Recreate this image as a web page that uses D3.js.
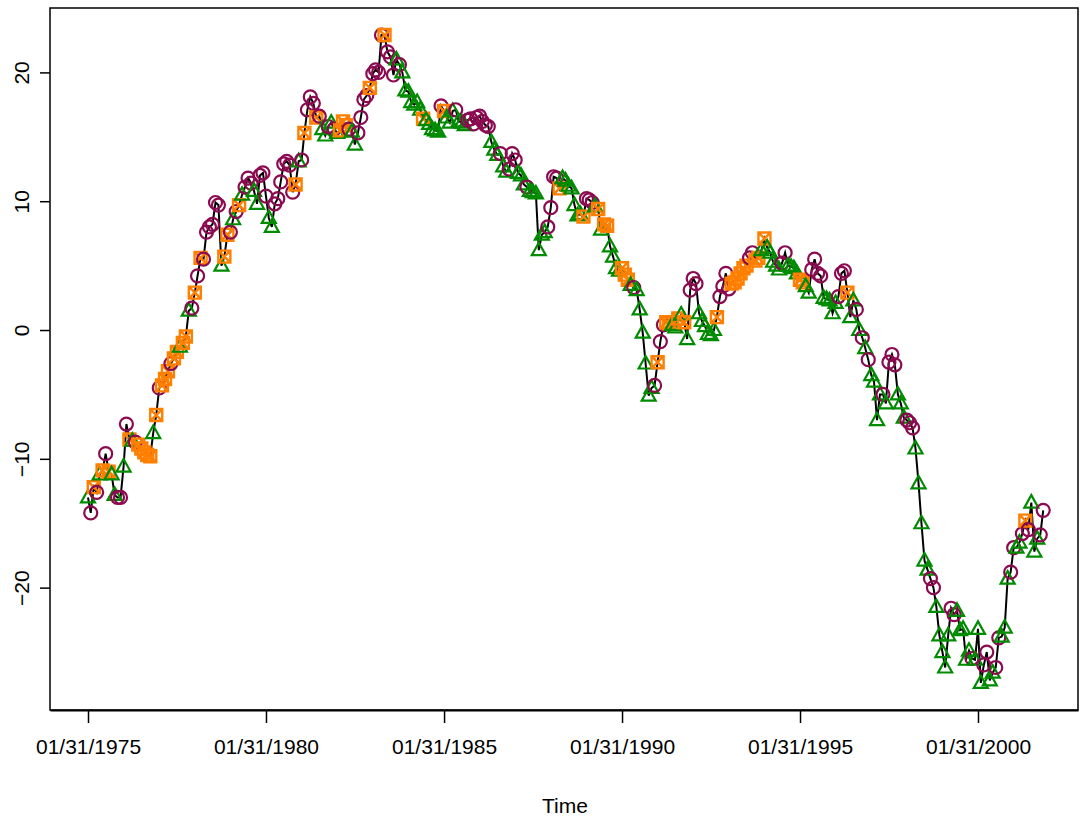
<!DOCTYPE html>
<html>
<head>
<meta charset="utf-8">
<script src="https://cdn.jsdelivr.net/npm/d3@7"></script>
<style>
  body { margin: 0; background: #fff; }
  text { font-family: "Liberation Sans", Arial, sans-serif; fill: #000; }
</style>
</head>
<body>
<div id="chart"></div>
<script>
// monthly series, month-end dates starting 01/31/1975
const startYear = 1975

const values = [
  -13.0,-14.2,-12.2,-12.6,-11.2,-10.9,-9.6,-11.0,-11.2,-12.8,-13.0,-13.0,
  -10.6,-7.3,-8.5,-8.6,-8.7,-8.9,-9.2,-9.5,-9.7,-9.8,-8.0,-6.6,
  -4.5,-4.3,-3.8,-3.2,-2.6,-2.2,-1.7,-1.3,-1.0,-0.5,1.5,1.7,
  2.9,4.2,5.6,5.5,7.6,8.0,8.2,9.9,9.7,5.0,5.7,7.4,
  7.6,8.6,9.2,9.7,10.5,11.1,11.8,11.4,10.8,9.8,12.0,12.2,
  10.4,8.7,8.0,9.8,10.2,11.5,12.9,13.1,12.8,10.7,11.3,13.1,
  13.2,15.3,17.1,18.1,17.6,16.5,16.6,15.6,15.1,15.8,16.1,15.6,
  15.3,15.5,16.2,15.9,15.6,15.4,14.4,15.3,16.5,17.9,18.2,18.8,
  19.9,20.2,20.0,22.9,22.9,21.6,21.2,19.8,21.0,20.6,20.0,18.6,
  18.5,17.7,17.5,17.7,17.1,16.4,16.3,16.0,15.6,15.5,15.4,17.4,
  17.0,16.5,16.1,17.0,17.1,16.2,16.1,15.9,16.3,16.4,16.0,16.5,
  16.6,16.2,15.9,15.8,14.6,14.0,13.6,13.7,12.7,12.3,12.5,13.7,
  13.2,12.2,12.0,11.3,11.1,10.8,10.7,10.6,6.2,7.4,7.6,8.0,
  9.5,11.9,11.8,11.0,11.8,11.6,11.2,11.0,9.7,8.9,9.0,8.8,
  10.2,10.1,9.9,9.6,9.4,7.8,8.2,8.1,6.5,5.7,4.8,4.6,
  4.8,4.3,3.9,3.5,3.3,3.1,1.6,-0.2,-2.6,-5.1,-4.5,-4.3,
  -2.5,-0.9,0.4,0.6,0.5,0.4,0.2,0.9,1.2,0.6,-0.7,3.1,
  4.0,3.6,1.3,0.7,0.3,-0.3,-0.4,0.0,1.0,2.6,3.4,4.4,
  3.2,3.6,3.7,4.0,4.4,4.8,5.0,5.6,6.0,5.4,5.6,6.2,
  7.1,6.4,6.0,5.3,5.0,4.7,5.2,6.0,5.0,4.9,4.8,4.4,
  3.9,3.7,3.4,2.9,4.7,5.5,4.4,4.2,2.5,2.4,2.3,1.3,
  2.1,2.6,4.4,4.6,2.9,1.0,2.3,1.6,0.0,-0.6,-1.4,-2.3,
  -3.5,-4.0,-7.0,-5.0,-5.0,-5.7,-2.5,-1.9,-2.7,-5.0,-5.7,-6.8,
  -7.0,-7.2,-7.6,-9.2,-11.9,-15.0,-17.9,-18.6,-19.3,-20.0,-21.5,-23.7,
  -25.0,-26.2,-23.7,-21.6,-22.1,-21.8,-23.3,-23.2,-25.6,-24.9,-25.5,-25.6,
  -23.2,-27.4,-26.0,-25.0,-27.2,-26.6,-26.2,-23.9,-23.8,-23.1,-19.3,-18.8,
  -16.9,-16.9,-16.5,-15.8,-14.8,-15.5,-13.4,-17.2,-16.2,-15.9,-14.0
]

// state of each month: C = circle, T = triangle, S = square
const states = (
  "TCSCTSCSTTCC" + "TCSTCSSSSSTS" + "CSSSCSSTSSTC" + "SCSCCCCCCTSS" +
  "CTCSTCCCTTCC" + "CTTCCCCCCCST" + "CSCCCSCTTCTC" + "TSSSCTTCCCCS" +
  "CCCCSCCCTCTT" + "TTTTTSTTTTTC" + "STTTCTTTCCCC" + "CCCCTTTCTTCC" +
  "CTTTCTTTTTTC" + "CCCSTTTTTTTS" + "CCCTSTSSTTTT" + "SSSTCTTTTTTC" +
  "SCCSSTTSTSTC" + "CCTTTTTTSCCC" + "CSSSSSSCCSST" + "STTTTTCCTTTT" +
  "SSTTCCCCTTTT" + "TCCCSTTCTCTC" + "TTTTCTCCCTTT" + "CCCTTTTTCCTT" +
  "TTTCCTTTTTCT" + "TTCCTTCCTTTC" + "CTTCSCTTTCC"
).split("")

const tickYears = [1975, 1980, 1985, 1990, 1995, 2000]
const yTicks = [-20, -10, 0, 10, 20]
const stateColor = { C: "#8B0A50", T: "#008B00", S: "#FF7F00" }

const data = values.map((v, i) => ({
  date: new Date(startYear, i + 1, 0),
  value: v,
  state: states[i]
}))

const width = 1080, height = 823
const box = { left: 50, right: 1078, top: 8, bottom: 710 }

const svg = d3.select("#chart").append("svg")
  .attr("width", width)
  .attr("height", height)

const tickDates = tickYears.map(y => new Date(y, 0, 31))

// time scale pinned so 1975 and 2000 ticks land where R put them
const xRef = d3.scaleTime()
  .domain([tickDates[0], tickDates[5]])
  .range([88, 978])
const x = d3.scaleTime()
  .domain([xRef.invert(box.left), xRef.invert(box.right)])
  .range([box.left, box.right])

const y = d3.scaleLinear()
  .domain([-29.5, 25.0])
  .range([box.bottom, box.top])

// line
svg.append("path")
  .datum(data)
  .attr("fill", "none")
  .attr("stroke", "#000")
  .attr("stroke-width", 2)
  .attr("d", d3.line().x(d => x(d.date)).y(d => y(d.value)))

// markers
const g = svg.append("g")
const pts = g.selectAll("g.pt")
  .data(data)
  .join("g")
  .attr("class", "pt")
  .attr("transform", d => `translate(${x(d.date)},${y(d.value)})`)

pts.filter(d => d.state === "C").append("circle")
  .attr("r", 6.5)
  .attr("fill", "none")
  .attr("stroke", stateColor.C)
  .attr("stroke-width", 2.2)

pts.filter(d => d.state === "T").append("path")
  .attr("d", "M0,-7.5L7,5L-7,5Z")
  .attr("fill", "none")
  .attr("stroke", stateColor.T)
  .attr("stroke-width", 2.2)

pts.filter(d => d.state === "S").append("path")
  .attr("d", "M-6,-6H6V6H-6Z M-6,-6L6,6 M6,-6L-6,6")
  .attr("fill", "none")
  .attr("stroke", stateColor.S)
  .attr("stroke-width", 2.4)

// box
svg.append("rect")
  .attr("x", box.left).attr("y", box.top)
  .attr("width", box.right - box.left)
  .attr("height", box.bottom - box.top)
  .attr("fill", "none")
  .attr("stroke", "#000")
  .attr("stroke-width", 1.5)

// x axis
const xAxis = svg.append("g")
  .attr("transform", `translate(0,${box.bottom})`)
  .call(d3.axisBottom(x)
    .tickValues(tickDates)
    .tickFormat(d3.timeFormat("%m/%d/%Y"))
    .tickSizeInner(13)
    .tickSizeOuter(0)
    .tickPadding(16))
xAxis.select(".domain").attr("stroke-width", 2)
xAxis.selectAll(".tick line").attr("stroke-width", 1.5)
xAxis.selectAll("text")
  .attr("font-size", 21)
  .attr("font-family", "Liberation Sans, Arial, sans-serif")

// y axis
const yAxis = svg.append("g")
  .attr("transform", `translate(${box.left},0)`)
  .call(d3.axisLeft(y).tickValues(yTicks).tickSize(10).tickPadding(0))
yAxis.select(".domain").remove()
yAxis.selectAll(".tick line").attr("stroke-width", 1.5)
yAxis.selectAll("text")
  .attr("font-size", 21)
  .attr("font-family", "Liberation Sans, Arial, sans-serif")
  .attr("text-anchor", "middle")
  .attr("dy", 0)
  .attr("x", 0)
  .attr("transform", "translate(-21,0) rotate(-90)")

svg.append("text")
  .attr("x", x(xRef.invert(565)))
  .attr("y", 813)
  .attr("text-anchor", "middle")
  .attr("font-size", 21)
  .text("Time")
</script>
</body>
</html>
